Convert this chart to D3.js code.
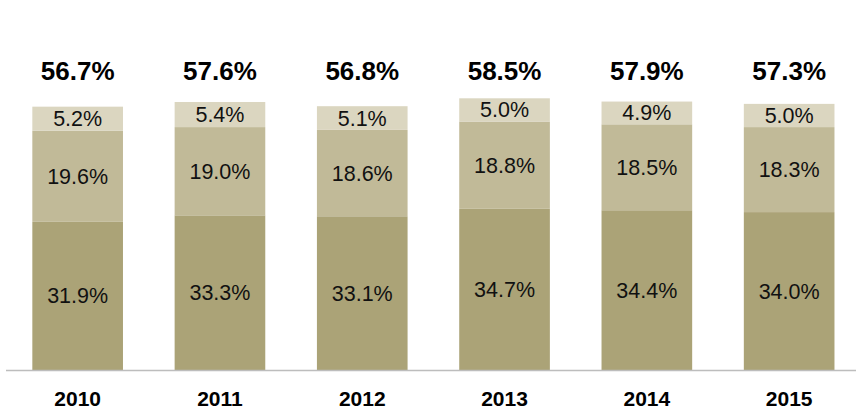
<!DOCTYPE html>
<html>
<head>
<meta charset="utf-8">
<script src="https://cdn.jsdelivr.net/npm/d3@7"></script>
<style>
  html, body { margin: 0; padding: 0; background: #fff; }
  svg { display: block; font-family: "Liberation Sans", Arial, Helvetica, sans-serif; }
</style>
</head>
<body>
<svg id="svg"></svg>
<script>
const years = ['2010', '2011', '2012', '2013', '2014', '2015'];
const bottomVals = [31.9, 33.3, 33.1, 34.7, 34.4, 34.0];
const middleVals = [19.6, 19.0, 18.6, 18.8, 18.5, 18.3];
const topVals = [5.2, 5.4, 5.1, 5.0, 4.9, 5.0];
const totals = [56.7, 57.6, 56.8, 58.5, 57.9, 57.3];

const seriesKeys = ['bottom', 'middle', 'top'];
const seriesColors = ['#aba377', '#c1ba98', '#dbd6c0'];

const width = 856, height = 410;

const table = years.map((y, i) => ({
  year: y,
  bottom: bottomVals[i],
  middle: middleVals[i],
  top: topVals[i],
  total: totals[i]
}));

const svg = d3.select('#svg')
  .attr('width', width)
  .attr('height', height);

const x = d3.scaleBand()
  .domain(years)
  .range([6.5, 860.3])
  .paddingInner(0.363)
  .paddingOuter(0.1815);

const y = d3.scaleLinear()
  .domain([0, 58.5])
  .range([370, 98.3]);

const stacked = d3.stack().keys(seriesKeys)(table);

const layers = svg.selectAll('g.layer')
  .data(stacked)
  .enter()
  .append('g')
    .attr('class', 'layer')
    .attr('fill', (d, i) => seriesColors[i]);

layers.selectAll('rect')
  .data(d => d)
  .enter()
  .append('rect')
    .attr('x', d => x(d.data.year))
    .attr('y', d => y(d[1]))
    .attr('width', x.bandwidth())
    .attr('height', d => y(d[0]) - y(d[1]));

// segment labels at the middle of each piece
layers.selectAll('text')
  .data(d => d)
  .enter()
  .append('text')
    .attr('x', d => x(d.data.year) + x.bandwidth() / 2)
    .attr('y', d => (y(d[0]) + y(d[1])) / 2)
    .attr('dy', '0.35em')
    .attr('text-anchor', 'middle')
    .attr('font-size', '21.5px')
    .attr('fill', '#111')
    .text(d => (d[1] - d[0]).toFixed(1) + '%');

// totals above the bars
svg.selectAll('text.total')
  .data(table)
  .enter()
  .append('text')
    .attr('class', 'total')
    .attr('x', d => x(d.year) + x.bandwidth() / 2)
    .attr('y', 79.5)
    .attr('text-anchor', 'middle')
    .attr('font-size', '26px')
    .attr('font-weight', 'bold')
    .attr('fill', '#000')
    .text(d => d.total.toFixed(1) + '%');

// baseline
svg.append('line')
  .attr('x1', 6)
  .attr('x2', width)
  .attr('y1', y(0) + 0.5)
  .attr('y2', y(0) + 0.5)
  .attr('stroke', '#bdbdbd')
  .attr('stroke-width', 1.5);

const xAxis = svg.append('g')
  .attr('transform', `translate(0,${y(0)})`)
  .call(d3.axisBottom(x).tickSize(0).tickPadding(0));
xAxis.select('.domain').remove();
xAxis.selectAll('text')
  .attr('y', 35.5)
  .attr('dy', null)
  .attr('font-size', '21px')
  .attr('font-weight', 'bold')
  .attr('fill', '#000')
  .style('font-family', 'inherit');
</script>
</body>
</html>
